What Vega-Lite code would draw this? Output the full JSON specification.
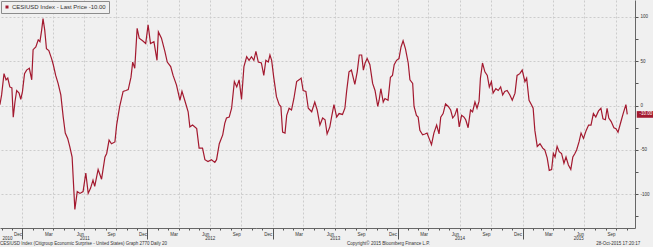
{
  "$schema": "https://vega.github.io/schema/vega-lite/v6.json",
  "width": 635,
  "height": 228,
  "autosize": {"type": "none"},
  "padding": {"left": 0, "top": 0, "right": 18, "bottom": 19},
  "background": "#f0f0f0",
  "config": {"view": {"stroke": null}, "font": "Liberation Sans"},
  "title": {
    "text": "CESIUSD Index (Citigroup Economic Surprise - United States) Graph 2770 Daily 20\u2003\u2003\u2003\u2003\u2003\u2003\u2003\u2003\u2003\u2003\u2003\u2003\u2003\u2003\u2003\u2003\u2003\u2003\u2003\u2003\u2003\u2003\u2003\u2003\u2003\u2003\u2003\u2003\u2003\u2003\u2003\u2003\u2003\u2003\u2003\u2003\u2003\u2003\u2003\u2003Copyright\u00a9 2015 Bloomberg Finance L.P.\u2003\u2003\u2003\u2003\u2003\u2003\u2003\u2003\u2003\u2003\u2003\u2003\u2003\u2003\u2003\u2003\u2003\u2003\u2003\u2003\u2003\u2003\u2003\u2003\u2003\u2003\u2003\u2003\u2003\u2003\u2003\u2003\u2003\u2003\u2003\u2003\u200328-Oct-2015 17:20:17",
    "orient": "bottom",
    "anchor": "start",
    "frame": "group",
    "fontSize": 4.5,
    "fontWeight": "normal",
    "color": "#333333",
    "offset": 1
  },
  "data": {"values": [
    {"date":"2010-10-27","v":1},{"date":"2010-11-01","v":12},{"date":"2010-11-08","v":36},{"date":"2010-11-14","v":29},{"date":"2010-11-19","v":31},{"date":"2010-11-25","v":21},{"date":"2010-12-01","v":20},{"date":"2010-12-05","v":-13},{"date":"2010-12-10","v":4},{"date":"2010-12-15","v":17},{"date":"2010-12-22","v":14},{"date":"2010-12-27","v":7},
    {"date":"2011-01-01","v":16},{"date":"2011-01-07","v":36},{"date":"2011-01-13","v":40},{"date":"2011-01-21","v":42},{"date":"2011-01-28","v":29},{"date":"2011-02-01","v":63},{"date":"2011-02-09","v":66},{"date":"2011-02-16","v":74},{"date":"2011-02-21","v":72},{"date":"2011-02-26","v":85},{"date":"2011-03-02","v":98},{"date":"2011-03-07","v":85},{"date":"2011-03-12","v":64},{"date":"2011-03-19","v":62},{"date":"2011-03-27","v":53},{"date":"2011-04-01","v":46},{"date":"2011-04-08","v":34},{"date":"2011-04-15","v":25},{"date":"2011-04-23","v":12},{"date":"2011-04-30","v":-13},{"date":"2011-05-06","v":-31},{"date":"2011-05-13","v":-37},{"date":"2011-05-19","v":-46},{"date":"2011-05-26","v":-58},{"date":"2011-05-31","v":-95},{"date":"2011-06-03","v":-117},{"date":"2011-06-10","v":-97},{"date":"2011-06-18","v":-99},{"date":"2011-06-27","v":-97},{"date":"2011-07-05","v":-76},{"date":"2011-07-12","v":-99},{"date":"2011-07-19","v":-93},{"date":"2011-07-26","v":-84},{"date":"2011-07-31","v":-91},{"date":"2011-08-10","v":-72},{"date":"2011-08-20","v":-83},{"date":"2011-08-30","v":-58},{"date":"2011-09-04","v":-54},{"date":"2011-09-11","v":-39},{"date":"2011-09-18","v":-43},{"date":"2011-09-28","v":-41},{"date":"2011-10-03","v":-22},{"date":"2011-10-12","v":-1},{"date":"2011-10-22","v":16},{"date":"2011-10-30","v":17},{"date":"2011-11-06","v":18},{"date":"2011-11-14","v":32},{"date":"2011-11-19","v":49},{"date":"2011-11-25","v":42},{"date":"2011-12-02","v":87},{"date":"2011-12-08","v":76},{"date":"2011-12-18","v":73},{"date":"2011-12-27","v":70},
    {"date":"2012-01-03","v":91},{"date":"2012-01-10","v":70},{"date":"2012-01-20","v":72},{"date":"2012-01-29","v":51},{"date":"2012-02-02","v":83},{"date":"2012-02-11","v":76},{"date":"2012-02-21","v":61},{"date":"2012-02-28","v":49},{"date":"2012-03-09","v":44},{"date":"2012-03-16","v":34},{"date":"2012-03-26","v":23},{"date":"2012-04-05","v":6},{"date":"2012-04-11","v":16},{"date":"2012-04-19","v":6},{"date":"2012-04-29","v":-7},{"date":"2012-05-04","v":-24},{"date":"2012-05-12","v":-22},{"date":"2012-05-24","v":-26},{"date":"2012-05-31","v":-48},{"date":"2012-06-10","v":-48},{"date":"2012-06-17","v":-61},{"date":"2012-06-26","v":-63},{"date":"2012-07-06","v":-61},{"date":"2012-07-16","v":-64},{"date":"2012-07-21","v":-61},{"date":"2012-07-29","v":-43},{"date":"2012-08-08","v":-33},{"date":"2012-08-14","v":-20},{"date":"2012-08-19","v":-14},{"date":"2012-08-27","v":-13},{"date":"2012-09-03","v":-3},{"date":"2012-09-11","v":27},{"date":"2012-09-18","v":21},{"date":"2012-09-25","v":29},{"date":"2012-10-02","v":7},{"date":"2012-10-09","v":44},{"date":"2012-10-17","v":55},{"date":"2012-10-24","v":51},{"date":"2012-10-31","v":55},{"date":"2012-11-07","v":51},{"date":"2012-11-13","v":61},{"date":"2012-11-20","v":49},{"date":"2012-11-29","v":48},{"date":"2012-12-06","v":34},{"date":"2012-12-12","v":51},{"date":"2012-12-19","v":49},{"date":"2012-12-24","v":57},{"date":"2012-12-29","v":51},
    {"date":"2013-01-04","v":32},{"date":"2013-01-12","v":10},{"date":"2013-01-20","v":1},{"date":"2013-01-25","v":-1},{"date":"2013-01-30","v":-30},{"date":"2013-02-06","v":-31},{"date":"2013-02-11","v":-11},{"date":"2013-02-18","v":-3},{"date":"2013-02-25","v":-5},{"date":"2013-03-04","v":8},{"date":"2013-03-12","v":27},{"date":"2013-03-19","v":29},{"date":"2013-03-25","v":31},{"date":"2013-03-31","v":17},{"date":"2013-04-08","v":16},{"date":"2013-04-15","v":-3},{"date":"2013-04-25","v":-7},{"date":"2013-05-04","v":4},{"date":"2013-05-11","v":-5},{"date":"2013-05-19","v":-22},{"date":"2013-05-27","v":-14},{"date":"2013-06-03","v":-16},{"date":"2013-06-09","v":-32},{"date":"2013-06-17","v":-24},{"date":"2013-06-22","v":-13},{"date":"2013-06-29","v":1},{"date":"2013-07-07","v":-13},{"date":"2013-07-14","v":-9},{"date":"2013-07-24","v":-10},{"date":"2013-07-31","v":-3},{"date":"2013-08-05","v":16},{"date":"2013-08-12","v":38},{"date":"2013-08-19","v":40},{"date":"2013-08-29","v":24},{"date":"2013-09-05","v":38},{"date":"2013-09-11","v":57},{"date":"2013-09-18","v":57},{"date":"2013-09-23","v":40},{"date":"2013-09-28","v":48},{"date":"2013-10-04","v":53},{"date":"2013-10-12","v":46},{"date":"2013-10-20","v":25},{"date":"2013-10-27","v":17},{"date":"2013-11-04","v":-1},{"date":"2013-11-08","v":6},{"date":"2013-11-13","v":19},{"date":"2013-11-20","v":4},{"date":"2013-11-25","v":8},{"date":"2013-12-04","v":6},{"date":"2013-12-11","v":32},{"date":"2013-12-17","v":34},{"date":"2013-12-22","v":46},{"date":"2013-12-29","v":51},
    {"date":"2014-01-05","v":53},{"date":"2014-01-11","v":66},{"date":"2014-01-17","v":73},{"date":"2014-01-24","v":64},{"date":"2014-02-01","v":48},{"date":"2014-02-06","v":29},{"date":"2014-02-14","v":25},{"date":"2014-02-18","v":-1},{"date":"2014-02-25","v":-11},{"date":"2014-03-02","v":-13},{"date":"2014-03-07","v":-28},{"date":"2014-03-15","v":-33},{"date":"2014-03-22","v":-32},{"date":"2014-03-28","v":-31},{"date":"2014-04-03","v":-37},{"date":"2014-04-10","v":-44},{"date":"2014-04-17","v":-31},{"date":"2014-04-25","v":-22},{"date":"2014-05-02","v":-32},{"date":"2014-05-07","v":-13},{"date":"2014-05-14","v":-9},{"date":"2014-05-21","v":2},{"date":"2014-05-29","v":-1},{"date":"2014-06-05","v":-5},{"date":"2014-06-11","v":-14},{"date":"2014-06-17","v":-11},{"date":"2014-06-24","v":-3},{"date":"2014-06-30","v":-24},{"date":"2014-07-07","v":-11},{"date":"2014-07-14","v":-13},{"date":"2014-07-19","v":-16},{"date":"2014-07-26","v":-25},{"date":"2014-08-02","v":-5},{"date":"2014-08-08","v":-7},{"date":"2014-08-15","v":4},{"date":"2014-08-21","v":-3},{"date":"2014-08-27","v":5},{"date":"2014-08-31","v":31},{"date":"2014-09-06","v":48},{"date":"2014-09-13","v":38},{"date":"2014-09-20","v":34},{"date":"2014-09-26","v":21},{"date":"2014-10-02","v":27},{"date":"2014-10-07","v":14},{"date":"2014-10-15","v":19},{"date":"2014-10-22","v":17},{"date":"2014-10-29","v":21},{"date":"2014-11-04","v":12},{"date":"2014-11-10","v":16},{"date":"2014-11-17","v":17},{"date":"2014-11-25","v":12},{"date":"2014-12-02","v":6},{"date":"2014-12-10","v":14},{"date":"2014-12-16","v":34},{"date":"2014-12-24","v":36},{"date":"2014-12-31","v":40},
    {"date":"2015-01-08","v":27},{"date":"2015-01-13","v":31},{"date":"2015-01-20","v":6},{"date":"2015-01-27","v":1},{"date":"2015-02-01","v":-3},{"date":"2015-02-06","v":-28},{"date":"2015-02-13","v":-46},{"date":"2015-02-21","v":-43},{"date":"2015-03-01","v":-48},{"date":"2015-03-07","v":-50},{"date":"2015-03-14","v":-59},{"date":"2015-03-20","v":-73},{"date":"2015-03-27","v":-72},{"date":"2015-04-01","v":-54},{"date":"2015-04-06","v":-58},{"date":"2015-04-12","v":-46},{"date":"2015-04-18","v":-52},{"date":"2015-04-25","v":-54},{"date":"2015-05-02","v":-65},{"date":"2015-05-08","v":-58},{"date":"2015-05-15","v":-67},{"date":"2015-05-22","v":-72},{"date":"2015-05-28","v":-58},{"date":"2015-06-03","v":-54},{"date":"2015-06-08","v":-50},{"date":"2015-06-15","v":-41},{"date":"2015-06-21","v":-31},{"date":"2015-06-28","v":-37},{"date":"2015-07-06","v":-28},{"date":"2015-07-13","v":-22},{"date":"2015-07-20","v":-22},{"date":"2015-07-27","v":-9},{"date":"2015-08-03","v":-13},{"date":"2015-08-11","v":-6},{"date":"2015-08-18","v":-3},{"date":"2015-08-24","v":-15},{"date":"2015-08-31","v":-16},{"date":"2015-09-05","v":-3},{"date":"2015-09-10","v":-14},{"date":"2015-09-17","v":-18},{"date":"2015-09-25","v":-25},{"date":"2015-10-01","v":-26},{"date":"2015-10-07","v":-30},{"date":"2015-10-17","v":-16},{"date":"2015-10-22","v":-9},{"date":"2015-10-30","v":1},{"date":"2015-11-03","v":-10}
  ]},
  "encoding": {
    "y": {
      "field": "v",
      "type": "quantitative",
      "scale": {"domain": [-138, 119], "nice": false, "zero": false},
      "axis": {
        "orient": "right",
        "title": null,
        "values": [-125, -100, -75, -50, -25, 0, 25, 50, 75, 100],
        "labelExpr": "datum.value % 50 == 0 ? '' + datum.value : ''",
        "labelFontSize": 4.5,
        "labelColor": "#333333",
        "labelPadding": 2,
        "tickSize": 3,
        "tickColor": "#555555",
        "domainColor": "#666666",
        "grid": true,
        "gridDash": [2, 2],
        "gridColor": "#cccccc",
        "gridOpacity": {"condition": {"test": "datum.value % 50 == 0", "value": 1}, "value": 0}
      }
    }
  },
  "layer": [
    {
      "mark": {"type": "line", "strokeWidth": 1.2},
      "encoding": {
        "x": {
          "field": "date",
          "type": "temporal",
          "scale": {"type": "utc", "domain": [{"year": 2010, "month": 10, "date": 27, "hours": 7, "utc": true}, {"year": 2015, "month": 11, "date": 25, "hours": 14, "utc": true}]},
          "axis": {
            "orient": "bottom",
            "title": null,
            "tickCount": {"interval": "month", "step": 1},
            "labelExpr": "utcmonth(datum.value) % 3 == 0 ? utcFormat(datum.value - 86400000, '%b') : ''",
            "labelAlign": "right",
            "labelOffset": -1,
            "labelFontSize": 4.5,
            "labelColor": "#333333",
            "labelPadding": 1,
            "labelOverlap": false,
            "labelFlush": false,
            "tickSize": 2,
            "tickColor": "#555555",
            "domainColor": "#666666",
            "grid": true,
            "gridDash": [2, 2],
            "gridColor": "#cccccc",
            "gridOpacity": {"condition": {"test": "utcmonth(datum.value) % 3 == 0", "value": 1}, "value": 0}
          }
        },
        "color": {
          "datum": "CESIUSD Index - Last Price -10.00",
          "scale": {"range": ["#a3192f"]},
          "legend": {
            "orient": "top-left",
            "offset": 1,
            "title": null,
            "symbolType": "square",
            "symbolSize": 9,
            "labelFontSize": 6,
            "labelColor": "#333333",
            "labelOffset": 2,
            "strokeColor": "#8c8c8c",
            "fillColor": "#f0f0f0",
            "padding": 3,
            "encode": {"symbols": {"update": {"fill": {"value": "#a3192f"}, "stroke": {"value": "#a3192f"}, "strokeWidth": {"value": 0}}}}
          }
        }
      }
    },
    {
      "data": {"values": [{"date": "2015-11-03", "v": -10}]},
      "mark": {"type": "point", "shape": "M-1,-0.37H1V0.37H-1Z", "filled": true, "size": 324, "color": "#a3192f", "opacity": 1, "xOffset": 18.5, "clip": false},
      "encoding": {
        "x": {
          "field": "date",
          "type": "temporal",
          "scale": {"type": "utc", "domain": [{"year": 2010, "month": 10, "date": 27, "hours": 7, "utc": true}, {"year": 2015, "month": 11, "date": 25, "hours": 14, "utc": true}]},
          "axis": {
            "orient": "bottom",
            "title": null,
            "values": [
              {"year": 2010, "month": 11, "date": 17, "utc": true},
              {"year": 2011, "month": 7, "date": 1, "utc": true},
              {"year": 2012, "month": 7, "date": 1, "utc": true},
              {"year": 2013, "month": 7, "date": 1, "utc": true},
              {"year": 2014, "month": 7, "date": 1, "utc": true},
              {"year": 2015, "month": 6, "date": 13, "utc": true}
            ],
            "labelExpr": "utcFormat(datum.value, '%Y')",
            "domain": false,
            "ticks": false,
            "grid": false,
            "labelPadding": 7,
            "labelFontSize": 4.5,
            "labelColor": "#333333",
            "labelAlign": "center",
            "labelOverlap": false,
            "labelFlush": false
          }
        }
      }
    },
    {
      "data": {"values": [{"date": "2015-11-03", "v": -10}]},
      "mark": {"type": "text", "dx": 18.5, "color": "#ffffff", "fontSize": 4.5, "clip": false},
      "encoding": {
        "x": {
          "field": "date",
          "type": "temporal",
          "scale": {"type": "utc", "domain": [{"year": 2010, "month": 10, "date": 27, "hours": 7, "utc": true}, {"year": 2015, "month": 11, "date": 25, "hours": 14, "utc": true}]},
          "axis": {
            "orient": "bottom",
            "title": null,
            "values": [
              {"year": 2011, "month": 1, "date": 1, "utc": true},
              {"year": 2012, "month": 1, "date": 1, "utc": true},
              {"year": 2013, "month": 1, "date": 1, "utc": true},
              {"year": 2014, "month": 1, "date": 1, "utc": true},
              {"year": 2015, "month": 1, "date": 1, "utc": true}
            ],
            "labels": false,
            "domain": false,
            "grid": false,
            "tickSize": 11,
            "tickColor": "#555555"
          }
        },
        "text": {"value": "-10.00"}
      }
    }
  ],
  "resolve": {"scale": {"x": "shared"}, "axis": {"x": "independent"}}
}
